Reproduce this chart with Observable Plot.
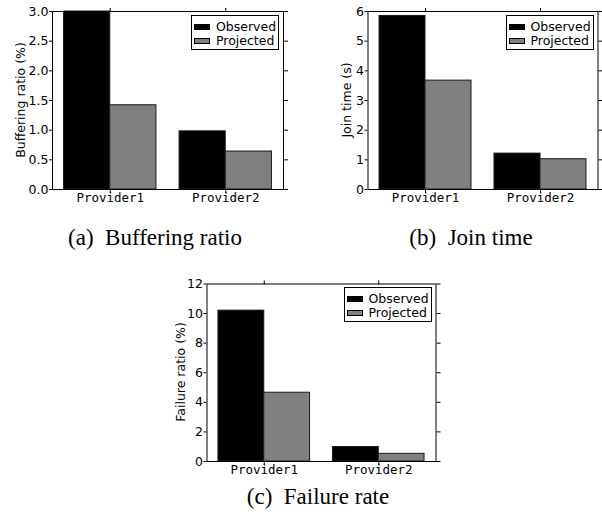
<!DOCTYPE html>
<html>
<head>
<meta charset="utf-8">
<script src="https://cdn.jsdelivr.net/npm/d3@7"></script>
<script src="https://cdn.jsdelivr.net/npm/@observablehq/plot@0.6"></script>
<style>
  html, body { margin: 0; padding: 0; background: #fff; }
  #root { position: relative; width: 602px; height: 517px; background: #fff; overflow: hidden; }
  .panel { position: absolute; }
  .caption { position: absolute; font-family: "Liberation Serif", "Times New Roman", serif; font-size: 23px; color: #000; white-space: nowrap; transform: translate(-50%, -50%); }
  .ylab { position: absolute; font-family: "DejaVu Sans", sans-serif; font-size: 12.5px; line-height: 13px; color: #000; white-space: nowrap; transform: translate(-50%, -50%) rotate(-90deg); }
  .legend { position: absolute; box-sizing: border-box; border: 1px solid #000; background: #fff; font-family: "DejaVu Sans", sans-serif; font-size: 12.5px; color: #000; }
  .legend .row { position: absolute; left: 2px; height: 14px; line-height: 14px; white-space: nowrap; }
  .legend .sw { position: absolute; left: 0; top: 4px; width: 16px; height: 6px; box-sizing: border-box; border: 1px solid #000; }
  .legend .lab { position: absolute; left: 22px; top: 0; }
</style>
</head>
<body>
<div id="root"></div>
<script>
// ---- data ----
const providers = ["Provider1", "Provider2"];
const seriesNames = ["Observed", "Projected"];
const seriesColors = ["#000000", "#808080"];

const bufferingObserved = [3.0, 0.98];
const bufferingProjected = [1.42, 0.64];
const bufferingTicks = [0, 0.5, 1.0, 1.5, 2.0, 2.5, 3.0];

const joinObserved = [5.85, 1.21];
const joinProjected = [3.67, 1.02];
const joinTicks = [0, 1, 2, 3, 4, 5, 6];

const failureObserved = [10.2, 0.98];
const failureProjected = [4.65, 0.52];
const failureTicks = [0, 2, 4, 6, 8, 10, 12];

const root = document.getElementById("root");
const BAR = 0.4;

function panel({left, top, width, height, mL, mT, mR, mB, observed, projected, yTicks, yMax, yFmt, yLabel, labX, caption, capX, capY}) {
  const rows = [];
  providers.forEach((p, pi) => {
    [observed, projected].forEach((vals, si) => {
      rows.push({provider: p, series: seriesNames[si], pi, si, value: vals[pi]});
    });
  });
  const xTicks = providers.map((p, i) => i + BAR);
  const fmtX = d => providers[Math.round(d - BAR)];
  const blank = () => "";
  const chart = Plot.plot({
    width, height,
    marginLeft: mL, marginTop: mT, marginRight: mR, marginBottom: mB,
    style: {fontFamily: "DejaVu Sans, sans-serif", fontSize: "12.5px", color: "#000", background: "transparent", overflow: "visible"},
    x: {type: "linear", domain: [-0.1, 1.9], axis: null},
    y: {type: "linear", domain: [0, yMax], axis: null},
    color: {domain: seriesNames, range: seriesColors},
    marks: [
      Plot.rectY(rows, {
        x1: d => d.pi + d.si * BAR,
        x2: d => d.pi + (d.si + 1) * BAR,
        y1: 0, y2: "value",
        fill: "series",
        stroke: "#1a1a1a", strokeWidth: 1
      }),
      Plot.frame({stroke: "#000", strokeWidth: 1}),
      Plot.axisY({anchor: "left", ticks: yTicks, tickFormat: yFmt, tickSize: 3, tickPadding: 1, label: null, fontSize: 12.5}),
      Plot.axisY({anchor: "right", ticks: yTicks, tickFormat: blank, tickSize: 4, label: null}),
      Plot.axisX({anchor: "bottom", ticks: xTicks, tickFormat: fmtX, tickSize: 4, tickPadding: 0, label: null, fontFamily: "DejaVu Sans Mono, monospace", fontSize: 12.5}),
      Plot.axisX({anchor: "top", ticks: xTicks, tickFormat: blank, tickSize: 4, label: null})
    ]
  });
  chart.classList.add("panel");
  chart.style.left = left + "px";
  chart.style.top = top + "px";
  root.appendChild(chart);

  const frameRight = left + width - mR;
  const frameTop = top + mT;
  const frameBottom = top + height - mB;

  // y-axis title
  const yl = document.createElement("div");
  yl.className = "ylab";
  yl.textContent = yLabel;
  yl.style.left = labX + "px";
  yl.style.top = ((frameTop + frameBottom) / 2) + "px";
  root.appendChild(yl);

  // legend box (top-right inside the frame)
  const lg = document.createElement("div");
  lg.className = "legend";
  const lw = 88, lh = 35;
  lg.style.left = (frameRight - 4 - lw) + "px";
  lg.style.top = (frameTop + 3.5) + "px";
  lg.style.width = lw + "px";
  lg.style.height = lh + "px";
  seriesNames.forEach((s, i) => {
    const r = document.createElement("div");
    r.className = "row";
    r.style.top = (4 + i * 14) + "px";
    const sw = document.createElement("span");
    sw.className = "sw";
    sw.style.background = seriesColors[i];
    const lab = document.createElement("span");
    lab.className = "lab";
    lab.textContent = s;
    r.appendChild(sw); r.appendChild(lab);
    lg.appendChild(r);
  });
  root.appendChild(lg);

  const cap = document.createElement("div");
  cap.className = "caption";
  cap.textContent = caption;
  cap.style.left = capX + "px";
  cap.style.top = capY + "px";
  root.appendChild(cap);
}

panel({left: 0, top: 0, width: 300, height: 210, mL: 52, mT: 11, mR: 17, mB: 21,
  observed: bufferingObserved, projected: bufferingProjected, yTicks: bufferingTicks, yMax: 3.0,
  yFmt: d3.format(".1f"), yLabel: "Buffering ratio (%)", labX: 20, caption: "(a)\u2002Buffering ratio", capX: 155, capY: 238});

panel({left: 300, top: 0, width: 302, height: 210, mL: 67.5, mT: 11, mR: 4.5, mB: 21,
  observed: joinObserved, projected: joinProjected, yTicks: joinTicks, yMax: 6,
  yFmt: d3.format("d"), yLabel: "Join time (s)", labX: 346, caption: "(b)\u2002Join time", capX: 471, capY: 238});

panel({left: 150, top: 272, width: 300, height: 210, mL: 56.5, mT: 11.5, mR: 14.5, mB: 21,
  observed: failureObserved, projected: failureProjected, yTicks: failureTicks, yMax: 12,
  yFmt: d3.format("d"), yLabel: "Failure ratio (%)", labX: 180, caption: "(c)\u2002Failure rate", capX: 318, capY: 497});
</script>
</body>
</html>
